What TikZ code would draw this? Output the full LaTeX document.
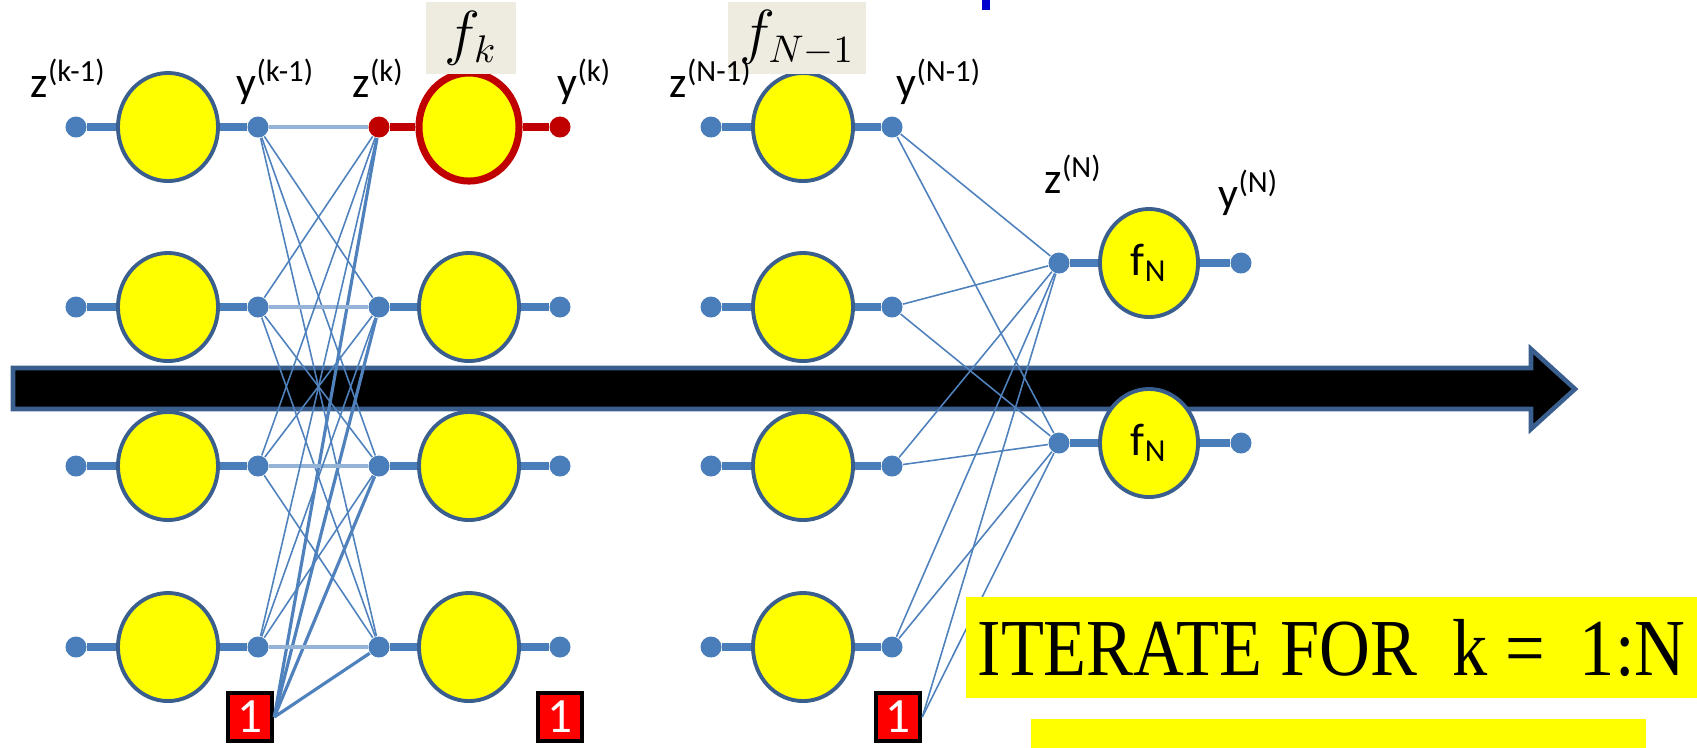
\documentclass[tikz,border=0pt]{standalone}
\usepackage{fontspec}
\setmainfont{Carlito}
\newfontfamily\iterfont{Liberation Serif}
\usepackage{tikz}
\usetikzlibrary{shapes.geometric, arrows.meta, positioning, calc}
\definecolor{dotblue}{HTML}{4A7EBB}
\definecolor{rimblue}{HTML}{3A5F8E}
\definecolor{linkblue}{HTML}{4F81BD}
\definecolor{paleblue}{HTML}{95B3D7}
\definecolor{unitred}{HTML}{C00000}
\definecolor{unitfill}{HTML}{FFFF00}
\definecolor{boxred}{HTML}{FF0000}
\definecolor{tagtan}{HTML}{EEECE1}
\definecolor{markblue}{HTML}{0000CC}

\begin{document}
\begin{tikzpicture}[
  x=0.01cm, y=-0.01cm,
  every node/.style={font=\fontsize{12.5}{14}\selectfont},
  unit/.style={ellipse, draw=rimblue, fill=unitfill, line width=1.1pt,
               minimum width=1cm, minimum height=1.08cm, inner sep=0pt},
  dotnode/.style={circle, fill=#1, minimum size=0.21cm, inner sep=0pt},
  dotnode/.default=dotblue,
  stub/.style={draw=#1, line width=2.4pt},
  stub/.default=dotblue,
  link/.style={draw=linkblue, line width=0.45pt},
  flat/.style={draw=paleblue, line width=1pt},
  biaslink/.style={draw=linkblue, line width=0.9pt},
  onebox/.style={rectangle, draw=black, fill=boxred, line width=1.3pt, text=white,
                 minimum width=0.44cm, minimum height=0.48cm, inner sep=0pt,
                 font=\fontsize{14}{14}\selectfont},
  tag/.style={rectangle, fill=tagtan, minimum height=0.71cm, inner sep=0pt,
              font=\fontsize{16}{16}\selectfont},
  lbl/.style={anchor=base west, inner sep=0pt},
]
  \useasboundingbox (0,0) rectangle (1697,747);

  % big arrow behind everything
  \filldraw[fill=black, draw=rimblue, line width=1.3pt]
    (13,368) -- (1531,368) -- (1531,349) -- (1575,389) -- (1531,429)
    -- (1531,409) -- (13,409) -- cycle;
  \fill[markblue] (982,0) rectangle (990,10);

  % layers k-1, k and N-1
  \foreach \i/\r in {1/127,2/307,3/466,4/647}{
    \node[dotnode] (za\i) at (76,\r) {};
    \node[unit] (a\i) at (168,\r) {};
    \node[dotnode] (ya\i) at (258,\r) {};
    \node[dotnode] (zc\i) at (711,\r) {};
    \node[unit] (c\i) at (803,\r) {};
    \node[dotnode] (yc\i) at (892,\r) {};
  }
  \foreach \i/\r in {2/307,3/466,4/647}{
    \node[dotnode] (zb\i) at (379,\r) {};
    \node[unit] (b\i) at (469,\r) {};
    \node[dotnode] (yb\i) at (560,\r) {};
  }
  \node[dotnode=unitred] (zb1) at (379,127) {};
  \node[unit, draw=unitred, line width=2pt] (b1) at (469,127) {};
  \node[dotnode=unitred] (yb1) at (560,127) {};

  % output layer
  \node[dotnode] (zd1) at (1059,263) {};
  \node[unit, minimum width=0.98cm, font=\fontsize{13}{13}\selectfont] (d1) at (1149,263) {f\textsubscript{N}};
  \node[dotnode] (yd1) at (1241,263) {};
  \node[dotnode] (zd2) at (1059,443) {};
  \node[unit, minimum width=0.98cm, font=\fontsize{13}{13}\selectfont] (d2) at (1149,443) {f\textsubscript{N}};
  \node[dotnode] (yd2) at (1241,443) {};

  % bias units
  \node[onebox] (one1) at (250,717) {1};
  \node[onebox] (one2) at (560,717) {1};
  \node[onebox] (one3) at (898,717) {1};

  % weights
  \foreach \i in {1,...,4}{
    \foreach \j in {1,...,4}{
      \ifnum\i=\j \draw[flat] (ya\i) -- (zb\j); \else \draw[link] (ya\i) -- (zb\j); \fi
    }
    \draw[biaslink] (one1.east) -- (zb\i);
    \draw[link] (yc\i) -- (zd1);
    \draw[link] (yc\i) -- (zd2);
  }
  \draw[link] (one3.east) -- (zd1);
  \draw[link] (one3.east) -- (zd2);

  % stubs
  \foreach \i in {1,...,4}{
    \draw[stub] (za\i) -- (a\i) -- (ya\i);
    \draw[stub] (zc\i) -- (c\i) -- (yc\i);
  }
  \foreach \i in {2,3,4}{
    \draw[stub] (zb\i) -- (b\i) -- (yb\i);
  }
  \draw[stub=unitred] (zb1) -- (b1) -- (yb1);
  \draw[stub] (zd1) -- (d1) -- (yd1);
  \draw[stub] (zd2) -- (d2) -- (yd2);

  % function tags
  \node[tag, minimum width=0.89cm] (tagk) at (471,38) {$f_k$};
  \node[tag, minimum width=1.38cm] (tagn) at (797,38) {$f_{N-1}$};

  % labels
  \node[lbl] (lza) at (30,97) {z\textsuperscript{(k-1)}};
  \node[lbl] (lya) at (236,97) {y\textsuperscript{(k-1)}};
  \node[lbl] (lzb) at (352,97) {z\textsuperscript{(k)}};
  \node[lbl] (lyb) at (557,97) {y\textsuperscript{(k)}};
  \node[lbl] (lzc) at (669,97) {z\textsuperscript{(N-1)}};
  \node[lbl] (lyc) at (896,97) {y\textsuperscript{(N-1)}};
  \node[lbl] (lzd) at (1044,193) {z\textsuperscript{(N)}};
  \node[lbl] (lyd) at (1218,208) {y\textsuperscript{(N)}};

  % loop note
  \node[fill=unitfill, minimum width=7.31cm, minimum height=1.01cm, inner sep=0pt,
        font=\iterfont\fontsize{20}{20}\selectfont] (iter) at (1331.5,647.5)
        {\scalebox{1}[1.15]{ITERATE FOR~ k = ~1:N}};
  \node[fill=unitfill, anchor=north west, minimum width=6.15cm, minimum height=0.5cm,
        inner sep=0pt] (nextbox) at (1030,718) {};
\end{tikzpicture}
\end{document}
